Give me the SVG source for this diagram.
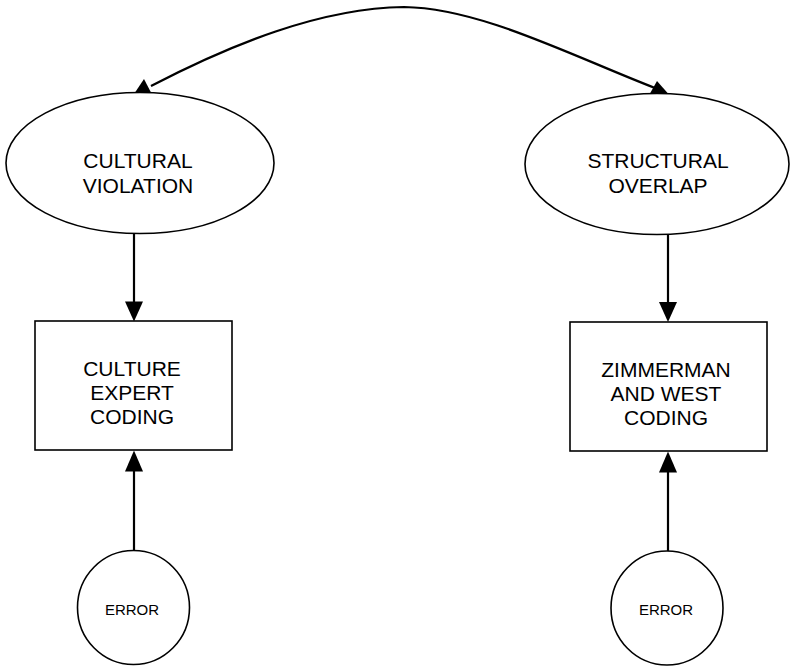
<svg xmlns="http://www.w3.org/2000/svg" width="792" height="667" viewBox="0 0 792 667">
<style>
.shape{fill:#fff;stroke:#000;stroke-width:1.6}
.edge{fill:none;stroke:#000;stroke-width:2.2}
.head{fill:#000;stroke:none}
.lbl{font-family:"Liberation Sans",Arial,sans-serif;font-size:21px;fill:#000;text-anchor:middle}
.sm{font-family:"Liberation Sans",Arial,sans-serif;font-size:15px;fill:#000;text-anchor:middle}
</style>
<rect width="792" height="667" fill="#fff"/>
<g id="connectors">
<path class="edge" d="M151 86 C230 45, 320 8, 404 7 C480 8, 570 55, 655 88"/>
<polygon class="head" points="135,92.5 151,92.5 144,79"/>
<polygon class="head" points="650,93.5 668,93.5 657,81"/>
<line class="edge" x1="134" y1="233" x2="134" y2="304"/>
<polygon class="head" points="125,301.5 143,301.5 134,321.5"/>
<line class="edge" x1="668" y1="235" x2="668" y2="304"/>
<polygon class="head" points="659,302 677,302 668,322"/>
<line class="edge" x1="134" y1="550" x2="134" y2="468"/>
<polygon class="head" points="125,471.5 143,471.5 134,450.5"/>
<line class="edge" x1="668" y1="551" x2="668" y2="469"/>
<polygon class="head" points="659,472.5 677,472.5 668,451.5"/>
</g>
<g id="cultural-violation">
<ellipse class="shape" cx="140" cy="163" rx="134" ry="70.5"/>
<text class="lbl" x="138" y="168">CULTURAL</text>
<text class="lbl" x="138" y="193">VIOLATION</text>
</g>
<g id="structural-overlap">
<ellipse class="shape" cx="657" cy="164" rx="132" ry="70.5"/>
<text class="lbl" x="658" y="168">STRUCTURAL</text>
<text class="lbl" x="658" y="193">OVERLAP</text>
</g>
<g id="culture-expert-coding">
<rect class="shape" x="35" y="321" width="197" height="129"/>
<text class="lbl" x="132" y="376">CULTURE</text>
<text class="lbl" x="132" y="400">EXPERT</text>
<text class="lbl" x="132" y="424">CODING</text>
</g>
<g id="zimmerman-west-coding">
<rect class="shape" x="570" y="322" width="197" height="129"/>
<text class="lbl" x="666" y="377">ZIMMERMAN</text>
<text class="lbl" x="666" y="401">AND WEST</text>
<text class="lbl" x="666" y="425">CODING</text>
</g>
<g id="error-left">
<ellipse class="shape" cx="133.5" cy="607.5" rx="56" ry="57"/>
<text class="sm" x="132" y="615">ERROR</text>
</g>
<g id="error-right">
<ellipse class="shape" cx="667" cy="608" rx="56" ry="57"/>
<text class="sm" x="666" y="615">ERROR</text>
</g>
</svg>
